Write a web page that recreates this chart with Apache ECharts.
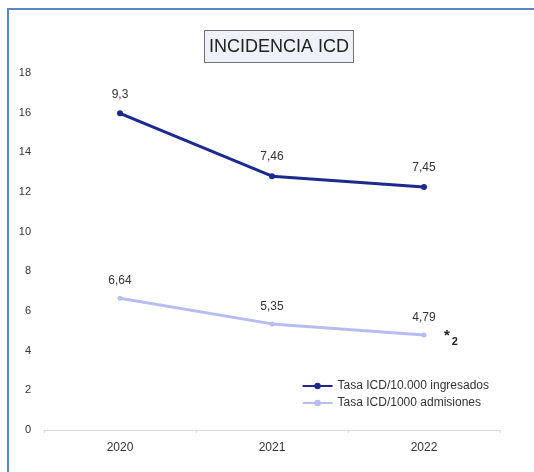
<!DOCTYPE html>
<html><head><meta charset="utf-8">
<script src="https://cdn.jsdelivr.net/npm/echarts@6/dist/echarts.min.js"></script>
<style>
html,body{margin:0;padding:0;background:#fff;}
#frame{position:absolute;left:7px;top:8px;width:540px;height:480px;border-top:2px solid #5b87c5;border-left:2px solid #5b87c5;}
#c{position:absolute;left:0;top:0;width:534px;height:472px;}
</style></head>
<body>
<div id="frame"></div>
<div id="c"></div>
<script>
const categories = ['2020', '2021', '2022'];
const seriesNames = ['Tasa ICD/10.000 ingresados', 'Tasa ICD/1000 admisiones'];
// plotted heights and the printed labels
const ingresadosPlot = [15.97, 12.8, 12.25];
const ingresadosLabels = ['9,3', '7,46', '7,45'];
const admisionesValues = [6.64, 5.35, 4.79];
const admisionesLabels = ['6,64', '5,35', '4,79'];
const yTicks = [0, 2, 4, 6, 8, 10, 12, 14, 16, 18];

const chart = echarts.init(document.getElementById('c'));
const font = '"Liberation Sans", Arial, sans-serif';
chart.setOption({
  animation: false,
  textStyle: { fontFamily: font },
  grid: { left: 44, right: 34, top: 73, bottom: 42 },
  title: {
    text: 'INCIDENCIA ICD',
    left: 204, top: 30,
    padding: [8, 5, 7, 5],
    backgroundColor: '#eef1f8',
    borderColor: '#707070', borderWidth: 1,
    textStyle: { fontFamily: font, fontSize: 18, fontWeight: 'normal', color: '#222' }
  },
  legend: {
    orient: 'vertical', right: 40, top: 375,
    itemWidth: 30, itemHeight: 8, itemGap: 5,
    textStyle: { fontSize: 12, color: '#333', fontFamily: font },
    data: seriesNames
  },
  xAxis: {
    type: 'category', data: categories, boundaryGap: true,
    axisLine: { lineStyle: { color: '#d9d9d9' } },
    axisTick: { show: true, length: 3, lineStyle: { color: '#d9d9d9' } },
    axisLabel: { fontSize: 12, color: '#333', margin: 12 }
  },
  yAxis: {
    type: 'value', min: yTicks[0], max: yTicks[yTicks.length - 1], interval: 2,
    axisLine: { show: false }, axisTick: { show: false }, splitLine: { show: false },
    axisLabel: { fontSize: 11, color: '#333', margin: 13 }
  },
  series: [
    {
      name: seriesNames[0], type: 'line', data: ingresadosPlot,
      symbol: 'circle', symbolSize: 6,
      lineStyle: { width: 3, color: '#1c2a8e' },
      itemStyle: { color: '#1c2a8e' },
      label: { show: true, position: 'top', distance: 10, fontSize: 12, color: '#333',
        formatter: p => ingresadosLabels[p.dataIndex] }
    },
    {
      name: seriesNames[1], type: 'line', data: admisionesValues,
      symbol: 'circle', symbolSize: 5,
      lineStyle: { width: 3, color: '#b7bdf0' },
      itemStyle: { color: '#b7bdf0' },
      label: { show: true, position: 'top', distance: 9, fontSize: 12, color: '#333',
        formatter: p => admisionesLabels[p.dataIndex] }
    }
  ]
});
const pt = chart.convertToPixel({ seriesIndex: 1 }, [2, admisionesValues[2]]);
chart.setOption({
  graphic: [{
    type: 'text', left: pt[0] + 20, top: pt[1] - 7,
    style: {
      text: '{a|*}{b|2}',
      rich: {
        a: { fontSize: 15, fontWeight: 'bold', fill: '#222', fontFamily: font },
        b: { fontSize: 11, fontWeight: 'bold', fill: '#222', padding: [12, 0, 0, 2], fontFamily: font }
      }
    }
  }]
});
</script>
</body></html>
